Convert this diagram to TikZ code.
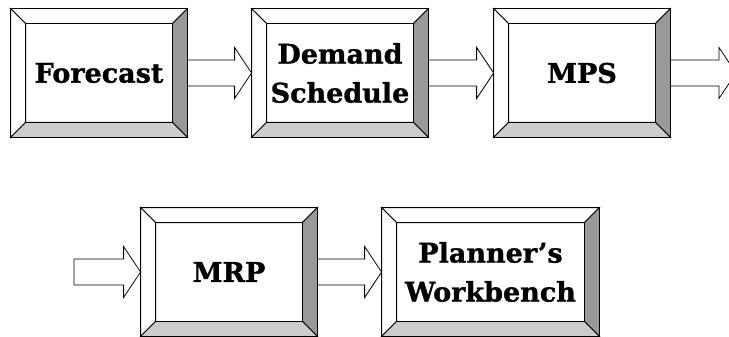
\documentclass[tikz,border=0pt]{standalone}
\usepackage{fontspec}
\setmainfont{DejaVu Serif}[BoldFeatures={FakeBold=1.2}]
\usetikzlibrary{calc}
\definecolor{bevdark}{HTML}{999999}
\definecolor{bevlight}{HTML}{CCCCCC}
\tikzset{
  bbox/.style={draw=black, fill=white, line width=0.8pt, minimum height=128pt,
    inner sep=0pt, align=center, font=\bfseries\fontsize{27}{39}\selectfont},
  bevline/.style={draw=black, line width=0.8pt, line join=miter},
  blockarr/.style={draw=black, fill=white, line width=0.8pt, line join=miter}
}
\newcommand{\bevelbox}[1]{%
  \path[bevline, fill=white] (#1.north west) -- (#1.north east) -- ($(#1.north east)+(-15pt,-15pt)$) -- ($(#1.north west)+(15pt,-15pt)$) -- cycle;
  \path[bevline, fill=white] (#1.north west) -- ($(#1.north west)+(15pt,-15pt)$) -- ($(#1.south west)+(15pt,15pt)$) -- (#1.south west) -- cycle;
  \path[bevline, fill=bevdark] (#1.north east) -- ($(#1.north east)+(-15pt,-15pt)$) -- ($(#1.south east)+(-15pt,15pt)$) -- (#1.south east) -- cycle;
  \path[bevline, fill=bevlight] (#1.south west) -- ($(#1.south west)+(15pt,15pt)$) -- ($(#1.south east)+(-15pt,15pt)$) -- (#1.south east) -- cycle;
  \draw[line width=0.8pt] (#1.north west) rectangle (#1.south east);
}
\newcommand{\blockarrow}[2]{%
  \path[blockarr] let \p1=(#1), \p2=(#2) in
    (\x1,{\y1+13pt}) -- ({\x2-17pt},{\y1+13pt}) -- ({\x2-17pt},{\y1+25.5pt}) -- (\x2,\y1)
    -- ({\x2-17pt},{\y1-25.5pt}) -- ({\x2-17pt},{\y1-13pt}) -- (\x1,{\y1-13pt}) -- cycle;
}
\begin{document}
\begin{tikzpicture}
\useasboundingbox (0pt,0pt) rectangle (729pt,-337pt);
\clip (0pt,0pt) rectangle (729pt,-337pt);
\node[bbox, minimum width=176pt] (f) at (99pt,-73pt) {Forecast};
\node[bbox, minimum width=176pt] (d) at (340pt,-73pt) {Demand\\Schedule};
\node[bbox, minimum width=176pt] (m) at (582pt,-73pt) {MPS};
\node[bbox, minimum width=176pt] (r) at (229pt,-272pt) {MRP};
\node[bbox, minimum width=217pt] (p) at (490.5pt,-272pt) {Planner’s\\Workbench};
\coordinate (mout) at (736pt,-73pt);
\coordinate (rin) at (74pt,-272pt);
\bevelbox{f}
\bevelbox{d}
\bevelbox{m}
\bevelbox{r}
\bevelbox{p}
\blockarrow{f.east}{d.west}
\blockarrow{d.east}{m.west}
\blockarrow{m.east}{mout}
\blockarrow{rin}{r.west}
\blockarrow{r.east}{p.west}
\end{tikzpicture}
\end{document}
